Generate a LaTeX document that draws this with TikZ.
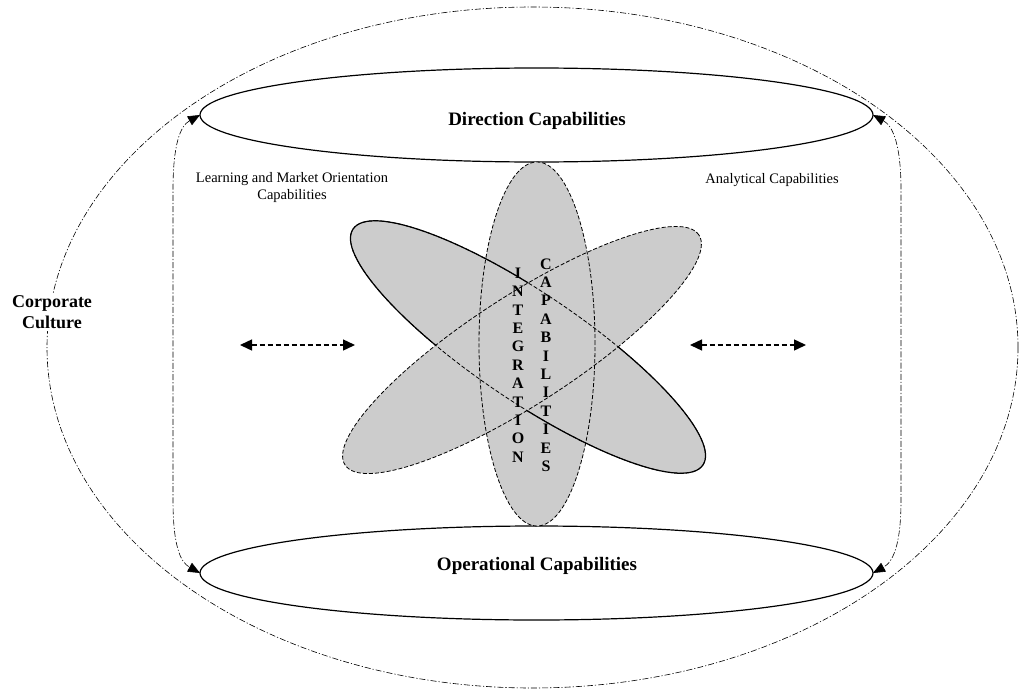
\documentclass[tikz,border=0pt]{standalone}
\usepackage{fontspec}
\setmainfont{Liberation Serif}
\usetikzlibrary{shapes.geometric,arrows.meta}
\definecolor{shade}{RGB}{204,204,204}
\tikzset{
  ell/.style={ellipse, inner sep=0pt, outer sep=0pt},
  dashdotline/.style={line width=0.6pt, dash pattern=on 6pt off 2pt on 1.2pt off 2pt},
  dashedell/.style={line width=0.8pt, dash pattern=on 4pt off 2pt},
  solidell/.style={line width=1.2pt},
  biglabel/.style={font=\fontsize{19}{21}\selectfont\bfseries},
  smalllabel/.style={font=\fontsize{14.5}{17}\selectfont, align=center},
  vertlabel/.style={font=\fontsize{16}{18.4}\selectfont\bfseries, align=center, inner sep=0pt},
  swapar/.style={line width=1.4pt, dash pattern=on 5pt off 3pt, {Triangle[length=12pt,width=11pt]}-{Triangle[length=12pt,width=11pt]}},
  loopar/.style={dashdotline, {Triangle[length=12pt,width=10pt]}-{Triangle[length=12pt,width=10pt]}}
}
\begin{document}
\begin{tikzpicture}[x=1pt,y=-1pt]
\useasboundingbox (0,0) rectangle (1035,693);
% outer culture ellipse
\node[ell, draw, dashdotline, minimum width=971, minimum height=681] (outer) at (532.5,347.5) {};
\node[font=\fontsize{18}{21}\selectfont\bfseries, align=center, fill=white, inner sep=2pt] (culture) at (52,312) {Corporate\\Culture};
% top and bottom ellipses
\node[ell, draw, solidell, minimum width=673, minimum height=94] (dir) at (536.5,115) {};
\node[biglabel] (dirlab) at (537,121) {Direction Capabilities};
\node[ell, draw, solidell, minimum width=673, minimum height=94] (op) at (536.5,573) {};
\node[biglabel] (oplab) at (537,566) {Operational Capabilities};
% central ellipses
\node[ell, fill=shade, minimum width=116, minimum height=364] (vert) at (537,344) {};
\node[ell, fill=shade, draw, solidell, minimum width=422, minimum height=108, rotate=-34] (back) at (528,347) {};
\node[ell, fill=shade, minimum width=422, minimum height=108, rotate=33] (fwd) at (522,350) {};
\node[ell, draw, dashedell, minimum width=116, minimum height=364] (vertb) at (537,344) {};
\node[ell, draw, dashedell, minimum width=422, minimum height=108, rotate=-34] (backb) at (528,347) {};
\node[ell, draw, dashedell, minimum width=422, minimum height=108, rotate=33] (fwdb) at (522,350) {};
% vertical words
\node[vertlabel] (integ) at (518,365) {I\\N\\T\\E\\G\\R\\A\\T\\I\\O\\N};
\node[vertlabel] (capab) at (546,365) {C\\A\\P\\A\\B\\I\\L\\I\\T\\I\\E\\S};
% side labels
\node[smalllabel] (learn) at (292,188) {Learning and Market Orientation\\Capabilities};
\node[smalllabel] (anal) at (772,180) {Analytical Capabilities};
% horizontal dashed arrows
\coordinate (la1) at (240,345);
\coordinate (la2) at (355,345);
\coordinate (ra1) at (690,345);
\coordinate (ra2) at (806,345);
\draw[swapar] (la1) -- (la2);
\draw[swapar] (ra1) -- (ra2);
% side loop connectors
\coordinate (lu) at (173,190);
\coordinate (ld) at (173,500);
\coordinate (ru) at (901,190);
\coordinate (rd) at (901,500);
\draw[loopar] (dir.west) .. controls (180,126) and (173,145) .. (lu) -- (ld) .. controls (173,545) and (180,562) .. (op.west);
\draw[loopar] (dir.east) .. controls (893,126) and (901,145) .. (ru) -- (rd) .. controls (901,545) and (893,562) .. (op.east);
\end{tikzpicture}
\end{document}
